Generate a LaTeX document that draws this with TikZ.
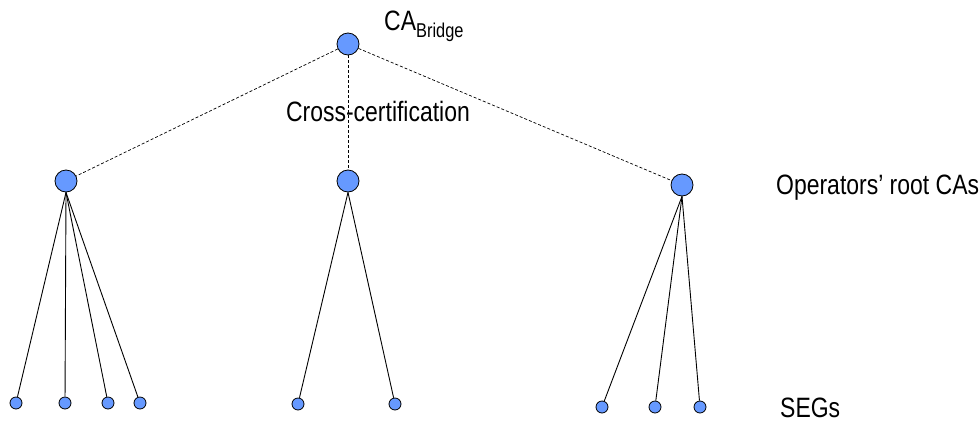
\documentclass[tikz,border=0pt]{standalone}
\usepackage{fontspec}
\setmainfont{Liberation Sans}[FakeStretch=0.82]
\definecolor{nodeblue}{RGB}{102,153,255}
\begin{document}
\begin{tikzpicture}[x=1pt,y=-1pt,
  ca/.style={circle,draw=black,fill=nodeblue,line width=0.8pt,minimum size=22pt,inner sep=0pt},
  seg/.style={circle,draw=black,fill=nodeblue,line width=0.8pt,minimum size=12pt,inner sep=0pt},
  cross/.style={dashed,line width=0.7pt,dash pattern=on 3pt off 2pt},
  link/.style={line width=0.9pt},
  lbl/.style={inner sep=0pt,font=\fontsize{28}{30}\selectfont}]
\useasboundingbox (0,0) rectangle (980,421);
\node[ca] (r) at (348,44) {};
\node[ca] (m1) at (66,181) {};
\node[ca] (m2) at (348,181) {};
\node[ca] (m3) at (682,185) {};
\node[seg] (a1) at (16,403) {};
\node[seg] (a2) at (65,403) {};
\node[seg] (a3) at (108,403) {};
\node[seg] (a4) at (140,403) {};
\node[seg] (b1) at (298,404) {};
\node[seg] (b2) at (395,404) {};
\node[seg] (c1) at (602,407) {};
\node[seg] (c2) at (655,407) {};
\node[seg] (c3) at (700,407) {};
\draw[cross] (r) -- (m1);
\draw[cross] (r) -- (m2);
\draw[cross] (r) -- (m3);
\foreach \l in {a1,a2,a3,a4} \draw[link] (m1.south) -- (\l);
\foreach \l in {b1,b2} \draw[link] (m2.south) -- (\l);
\foreach \l in {c1,c2,c3} \draw[link] (m3.south) -- (\l);
\node[lbl,anchor=base west] (tca) at (384,30) {CA\raisebox{-7pt}{\fontsize{20}{22}\selectfont Bridge}};
\node[lbl,anchor=base] (tcc) at (378,121) {Cross-certification};
\node[lbl,anchor=base west] (top) at (776,194) {Operators' root CAs};
\node[lbl,anchor=base west] (tseg) at (780,417) {SEGs};
\end{tikzpicture}
\end{document}
